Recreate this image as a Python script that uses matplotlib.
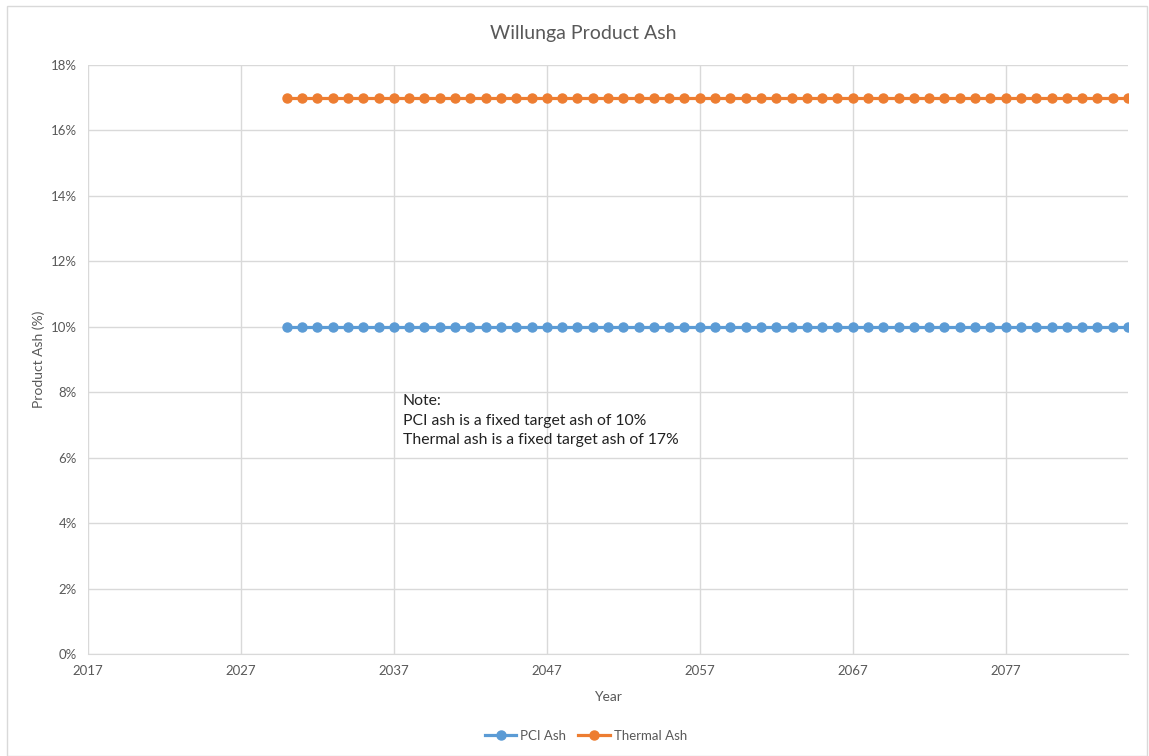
import numpy as np
import matplotlib
matplotlib.use("Agg")
import matplotlib.pyplot as plt
from matplotlib.ticker import FuncFormatter, MultipleLocator
from matplotlib.patches import Rectangle

# data
years = list(range(2030, 2086))
pci_ash = [0.10] * len(years)
thermal_ash = [0.17] * len(years)
x_ticks = [2017, 2027, 2037, 2047, 2057, 2067, 2077]
note_lines = ["Note:",
              "PCI ash is a fixed target ash of 10%",
              "Thermal ash is a fixed target ash of 17%"]

plt.rcParams['font.family'] = ['Lato', 'DejaVu Sans']
grey = "#595959"
grid = "#D9D9D9"

fig = plt.figure(figsize=(11.49, 7.56), dpi=100)
ax = fig.add_axes([88 / 1149, 1 - 654 / 756, (1128 - 88) / 1149, (654 - 65) / 756])

ax.plot(years, pci_ash, color="#5B9BD5", lw=2.3, marker="o", ms=6.5, label="PCI Ash", zorder=3)
ax.plot(years, thermal_ash, color="#ED7D31", lw=2.3, marker="o", ms=6.5, label="Thermal Ash", zorder=3)

ax.set_xlim(2017, 2085)
ax.set_ylim(0, 0.18)
ax.set_xticks(x_ticks)
ax.yaxis.set_major_locator(MultipleLocator(0.02))
ax.yaxis.set_major_formatter(FuncFormatter(lambda v, p: f"{v * 100:.0f}%"))
ax.grid(True, color=grid, lw=1)
ax.set_axisbelow(True)
for s in ["top", "right", "left"]:
    ax.spines[s].set_visible(False)
ax.spines["bottom"].set_color(grid)
ax.tick_params(axis="both", length=0, colors=grey, labelsize=9.5)
ax.tick_params(axis="x", pad=8)
ax.tick_params(axis="y", pad=8)

ax.set_xlabel("Year", color=grey, fontsize=10, labelpad=10)
ax.set_ylabel("Product Ash (%)", color=grey, fontsize=10, labelpad=4)
fig.text(583 / 1149, 1 - 33 / 756, "Willunga Product Ash", ha="center", va="center",
         color=grey, fontsize=14)

fig.text(403 / 1149, 1 - 394 / 756, "\n".join(note_lines), ha="left", va="top",
         color="#222222", fontsize=11.3, linespacing=1.5)

fig.legend(loc="center", bbox_to_anchor=(586 / 1149, 1 - 736 / 756), ncol=2, frameon=False,
           fontsize=9.5, labelcolor=grey, handlelength=2.4, handletextpad=0.3,
           columnspacing=0.9)

fig.patches.append(Rectangle((7 / 1149, 0), 1 - 7 / 1149 - 0.002, 1 - 6 / 756,
                             transform=fig.transFigure, fill=False, ec=grid, lw=1))

fig.savefig("out.png", dpi=100)
